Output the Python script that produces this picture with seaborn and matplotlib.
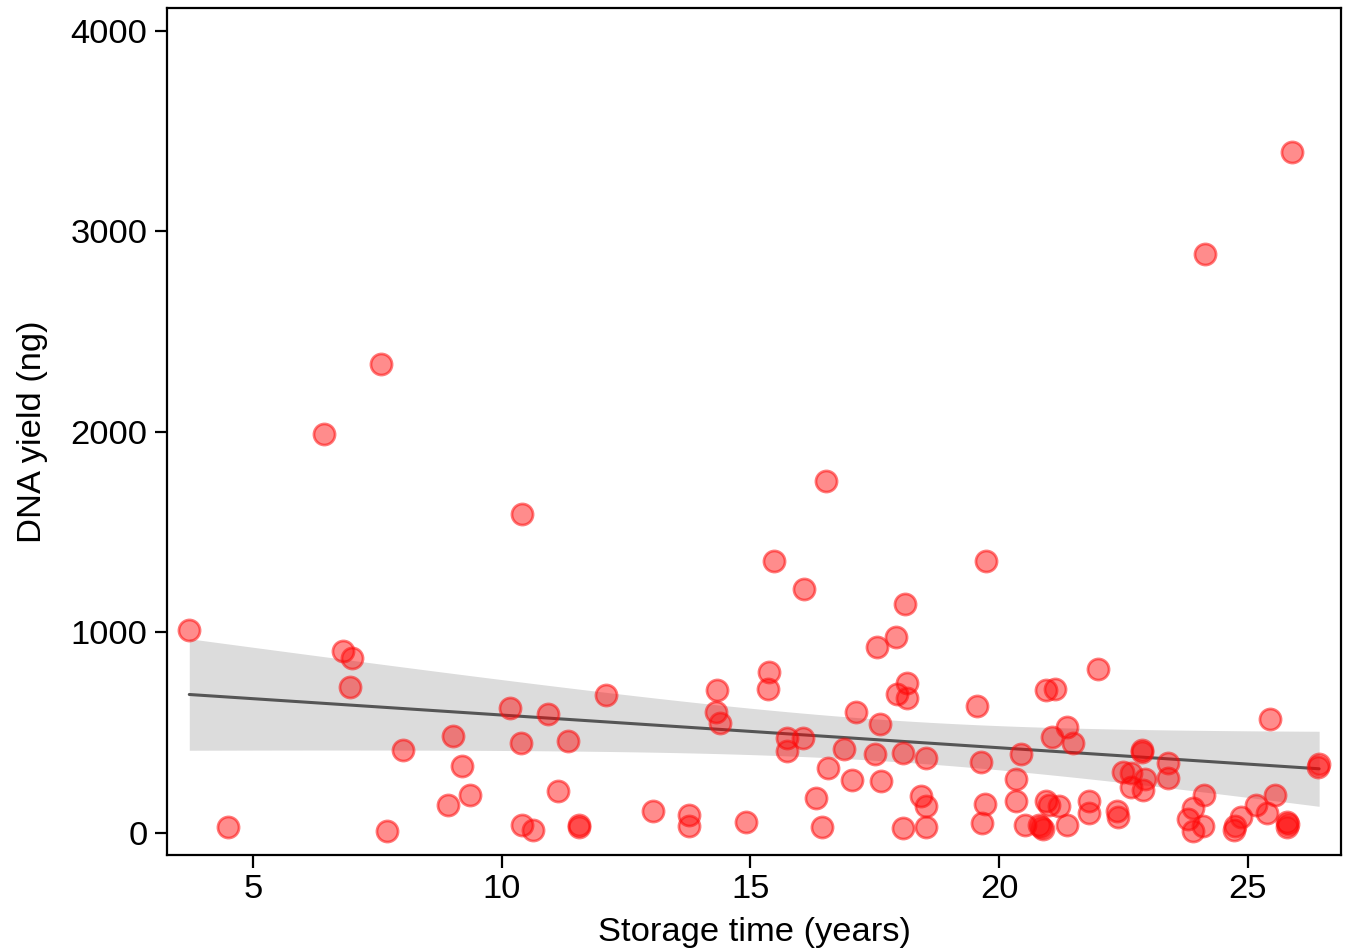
import numpy as np
import pandas as pd
import matplotlib
matplotlib.use("Agg")
import matplotlib.pyplot as plt
import seaborn as sns

storage_years = [
    3.72, 4.50, 6.43, 6.81, 7.00, 6.96, 7.57, 7.69, 8.02, 8.93,
    9.03, 9.21, 9.36, 10.17, 10.39, 10.41, 10.41, 10.63, 10.93, 11.14,
    11.33, 11.56, 11.56, 12.10, 13.05, 13.77, 13.77, 14.31, 14.32, 14.38,
    14.90, 15.36, 15.38, 15.47, 15.73, 15.74, 16.06, 16.08, 16.32, 16.43,
    16.52, 16.55, 16.88, 17.05, 17.13, 17.51, 17.55, 17.61, 17.63, 17.93,
    17.94, 18.06, 18.07, 18.11, 18.14, 18.14, 18.42, 18.52, 18.53, 18.53,
    19.55, 19.64, 19.65, 19.71, 19.73, 20.33, 20.34, 20.44, 20.52, 20.80,
    20.84, 20.88, 20.95, 20.95, 21.00, 21.07, 21.12, 21.21, 21.37, 21.37,
    21.49, 21.81, 21.81, 21.98, 22.37, 22.39, 22.48, 22.64, 22.65, 22.87,
    22.87, 22.88, 22.92, 23.39, 23.40, 23.80, 23.89, 23.89, 24.09, 24.12,
    24.14, 24.72, 24.74, 24.86, 25.17, 25.38, 25.44, 25.55, 25.78, 25.80,
    25.78, 25.88, 26.40, 26.43,
]
dna_yield = [
    1010, 28, 1990, 906, 870, 727, 2339, 8, 414, 141,
    484, 336, 188, 623, 449, 1591, 38, 12, 591, 207,
    459, 40, 28, 688, 111, 88, 32, 604, 713, 550,
    56, 718, 805, 1357, 474, 409, 474, 1217, 176, 28,
    1756, 326, 416, 264, 603, 394, 929, 544, 261, 979,
    694, 397, 23, 1142, 750, 674, 185, 136, 376, 30,
    635, 356, 48, 146, 1357, 268, 161, 394, 40, 38,
    28, 18, 713, 161, 141, 476, 719, 135, 530, 40,
    450, 161, 97, 818, 111, 77, 303, 227, 301, 415,
    405, 214, 269, 272, 351, 68, 123, 10, 35, 190,
    2888, 15, 35, 81, 140, 101, 569, 190, 56, 45,
    28, 3397, 330, 345,
]
x_ticks = [5, 10, 15, 20, 25]
y_ticks = [0, 1000, 2000, 3000, 4000]

df = pd.DataFrame({"Storage time (years)": storage_years,
                   "DNA yield (ng)": dna_yield})

sns.set_style("ticks")
plt.rcParams["font.family"] = ["Liberation Sans", "DejaVu Sans"]
plt.rcParams["text.color"] = "black"
plt.rcParams["axes.labelcolor"] = "black"
plt.rcParams["xtick.color"] = "black"
plt.rcParams["ytick.color"] = "black"

fig = plt.figure(figsize=(13.46, 9.51), dpi=100)
ax = fig.add_axes([0.124, 0.101, 0.8723, 0.8907])

# analytic 95% confidence band of the linear fit
x = np.asarray(storage_years, float)
y = np.asarray(dna_yield, float)
n = len(x)
slope, intercept = np.polyfit(x, y, 1)
resid = y - (intercept + slope * x)
s_err = np.sqrt(np.sum(resid ** 2) / (n - 2))
grid = np.linspace(x.min(), x.max(), 100)
fit = intercept + slope * grid
se = s_err * np.sqrt(1.0 / n + (grid - x.mean()) ** 2 / np.sum((x - x.mean()) ** 2))
tval = 1.981
ax.fill_between(grid, fit - tval * se, fit + tval * se, color="#dcdcdc",
                linewidth=0, zorder=1)

sns.regplot(data=df, x="Storage time (years)", y="DNA yield (ng)", ax=ax,
            scatter=False, ci=None, color="#555555",
            line_kws={"linewidth": 2.2, "zorder": 3})

sns.scatterplot(data=df, x="Storage time (years)", y="DNA yield (ng)", ax=ax,
                s=230, facecolor=(1, 0, 0, 0.45), edgecolor=(1, 0.05, 0.05, 0.55),
                linewidth=2.0, zorder=4)

ax.set_xlim(3.27, 26.87)
ax.set_ylim(-110, 4115)
ax.set_xticks(x_ticks)
ax.set_yticks(y_ticks)
ax.tick_params(axis="both", labelsize=24.8, length=9, width=1.6, color="black",
               labelcolor="black", direction="out", pad=5)
for sp in ax.spines.values():
    sp.set_visible(True)
    sp.set_linewidth(1.6)
    sp.set_color("black")
ax.set_xlabel("Storage time (years)", fontsize=24.8, labelpad=8, color="black")
ax.set_ylabel("DNA yield (ng)", fontsize=24.8, labelpad=16, color="black")

fig.savefig("out.png", dpi=100)
